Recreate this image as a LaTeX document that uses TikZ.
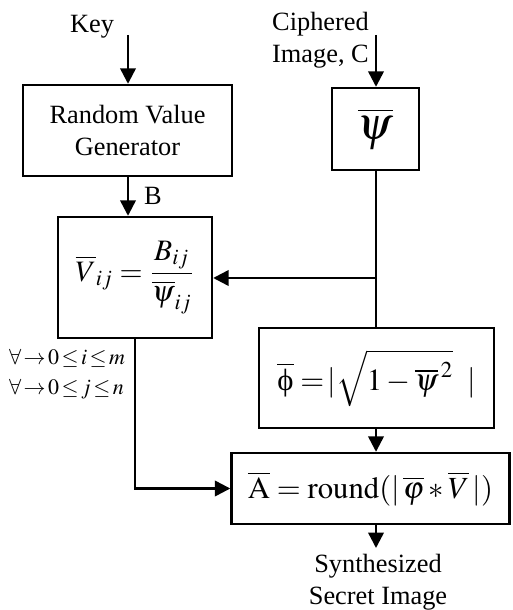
\documentclass[tikz,border=0pt]{standalone}
\usepackage{amsmath}
\usepackage{amssymb}
\usepackage{mathptmx}
\usepackage[no-math]{fontspec}
\setmainfont{Liberation Serif}
\usetikzlibrary{arrows.meta}

\begin{document}
\begin{tikzpicture}[x=0.016cm,y=-0.016cm,>={Triangle[length=7pt,width=7pt]},
        line width=1.1pt,
        blk/.style={draw,inner sep=0pt,align=center,font=\fontsize{12}{14.5}\selectfont},
        lbl/.style={inner sep=0pt,align=center,font=\fontsize{12}{14.5}\selectfont}]
        \useasboundingbox (0,0) rectangle (512,610);
        % blocks
        \node[blk,minimum width=209*0.016cm,minimum height=91*0.016cm] (rvg) at (127.5,130.5){Random Value\\Generator};
        \node[blk,minimum width=87*0.016cm,minimum height=82*0.016cm] (psi) at (375.5,129){\fontsize{21}{25}\selectfont\(\overline{\psi}\)};
        \node[blk,minimum width=154*0.016cm,minimum height=121*0.016cm] (vbox) at (135,277.5){\fontsize{13.5}{16}\selectfont\(\displaystyle\overline{V}_{ij}=\frac{B_{ij}}{\overline{\psi}_{ij}}\)};
        \node[blk,minimum width=235*0.016cm,minimum height=100*0.016cm] (phi) at (376.5,378){\fontsize{14}{17}\selectfont\(\overline{\mbox{ϕ}}=\!|\sqrt{1-\overline{\psi}^{\,2}}\;\;|\)};
        \node[blk,minimum width=278*0.016cm,minimum height=71*0.016cm] (abox) at (370.5,488.5){\fontsize{14}{17}\selectfont\(\overline{\mathrm{A}}=\mathrm{round}(|\,\overline{\varphi}*\overline{V}\,|)\)};
        % labels
        \node[lbl] (key) at (92,27){Key};
        \node[lbl,align=left,anchor=west] (cimg) at (271,40){Ciphered\\Image, C};
        \node[lbl,anchor=west] (b) at (143,196){B};
        \node[lbl,align=left,font=\fontsize{10}{13.5}\selectfont] (rng) at (67,374){\(\thickmuskip=2mu\forall\to0\le i\le m\)\\\(\thickmuskip=2mu\forall\to0\le j\le n\)};
        \node[lbl] (ssi) at (378,582){Synthesized\\Secret Image};
        \coordinate (keytop) at (128,35);
        \coordinate (ctop) at (376,35);
        \coordinate (jn) at (376,278);
        \coordinate (out) at (376,548);
        % connectors
        \draw[->] (keytop)--(keytop|-rvg.north);
        \draw[->] (ctop)--(ctop|-psi.north);
        \draw[->] (keytop|-rvg.south)--(keytop|-vbox.north);
        \draw (ctop|-psi.south)--(ctop|-phi.north);
        \draw[->] (jn)--(vbox.east|-jn);
        \draw[->] (vbox.south)|-(abox.west);
        \draw[->] (out|-phi.south)--(out|-abox.north);
        \draw[->] (out|-abox.south)--(out);
    \end{tikzpicture}
\end{document}
